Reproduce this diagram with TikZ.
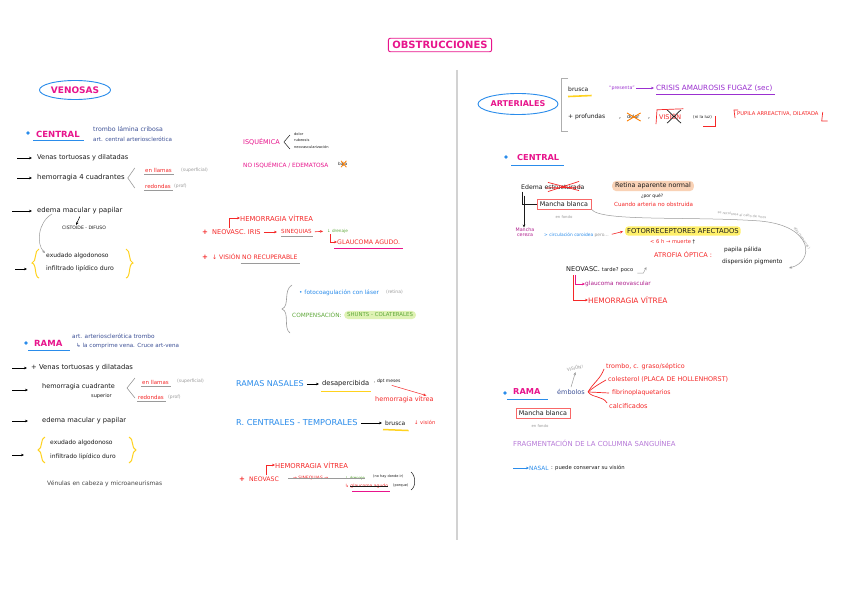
\documentclass[tikz,border=0pt]{standalone}
\usepackage{fontspec}
\setmainfont{DejaVu Sans}
\usetikzlibrary{arrows.meta,shapes.geometric,calc}
\definecolor{cpink}{HTML}{E8148C}
\definecolor{cblue}{HTML}{2A8CEB}
\definecolor{cnavy}{HTML}{3C5096}
\definecolor{cred}{HTML}{F52828}
\definecolor{cgray}{HTML}{9A9A9A}
\definecolor{cgreen}{HTML}{5FA83A}
\definecolor{cyel}{HTML}{FFD21E}
\definecolor{chl}{HTML}{FFF06A}
\definecolor{cpurple}{HTML}{9B30D0}
\definecolor{clpurple}{HTML}{B77AD8}
\definecolor{corange}{HTML}{F9D2B6}
\definecolor{clgreen}{HTML}{DFF2B4}
\definecolor{cmag}{HTML}{B0208E}
\definecolor{cink}{HTML}{1A1A1A}
\newcommand\fsz[1]{\fontsize{#1}{#1}\selectfont}
\begin{document}
\begin{tikzpicture}[x=1pt,y=-1pt,
  tx/.style={anchor=west,inner sep=0pt,font=\fsz{6.6},text=cink},
  arr/.style={-{Stealth[length=3pt,width=2.6pt]},line width=0.6pt},
  bul/.style={circle,fill=cblue,inner sep=1.4pt},
  ttl/.style={tx,text=cpink,font=\bfseries\fsz{8.5}},
  ul/.style={cblue,line width=1pt},
  mbox/.style={draw=cred!70,line width=0.6pt,inner xsep=3pt,inner ysep=2.5pt,font=\fsz{6.4},text=cink},
  brace/.style={cyel,line width=1pt}]
\useasboundingbox[fill=white] (0,0) rectangle (848,599);

% ---------- title & divider
\node[draw=cpink,rounded corners=2pt,line width=0.9pt,inner xsep=4pt,inner ysep=3pt,text=cpink,font=\bfseries\fsz{10}] (title) at (440,45) {OBSTRUCCIONES};
\coordinate (d1) at (457,70); \coordinate (d2) at (457,540);
\draw[cgray!45,line width=1.2pt] (d1) -- (d2);

% ================= VENOSAS =================
\node[ellipse,draw=cblue,line width=0.9pt,text=cpink,font=\bfseries\fsz{9},minimum width=64,minimum height=19,inner sep=1pt] (venosas) at (75,90) {VENOSAS};

% --- central
\node[bul] (b1) at (28,133) {};
\node[ttl] (vcen) at (36,134) {CENTRAL};
\draw[ul] ($(vcen.south west)+(-3,3)$) -- ($(vcen.south east)+(4,3)$);
\node[tx,text=cnavy,font=\fsz{6.2}] (vc1) at (93,129) {trombo lámina cribosa};
\node[tx,text=cnavy,font=\fsz{5.6}] (vc2) at (93,139) {art. central arteriosclerótica};

\coordinate (a1) at (17,158);
\node[tx] (l1) at (37,158) {Venas tortuosas y dilatadas};
\draw[arr,shorten >=5pt] (a1) -- (l1.west);

\coordinate (a2) at (17,178);
\node[tx,font=\fsz{6.9}] (l2) at (37,178) {hemorragia 4 cuadrantes};
\draw[arr,shorten >=5pt] (a2) -- (l2.west);
\draw[cgray,line width=0.6pt] ($(l2.east)+(10,-10)$) -- ($(l2.east)+(3,0)$) -- ($(l2.east)+(10,10)$);
\node[tx,text=cred,font=\fsz{5.5}] (ll1) at (145,170) {en llamas};
\node[tx,text=cgray,font=\fsz{4.5}] (sp1) at (181,170) {(superficial)};
\draw[cgray,line width=0.5pt] ($(ll1.south west)+(-1,2)$) -- ($(ll1.south east)+(2,2)$);
\node[tx,text=cred,font=\fsz{5.5}] (rd1) at (145,186) {redondas};
\node[tx,text=cgray,font=\fsz{4.5}] (pr1) at (174,186) {(prof)};
\draw[cgray,line width=0.5pt] ($(rd1.south west)+(-1,2)$) -- ($(rd1.south east)+(2,2)$);

\coordinate (a3) at (12,211);
\node[tx,font=\fsz{6.8}] (l3) at (37,211) {edema macular y papilar};
\draw[arr,shorten >=5pt] (a3) -- (l3.west);
\node[tx,font=\fsz{4.6}] (cis) at (62,228) {CISTOIDE - DIFUSO};
\draw[arr,line width=0.5pt] ($(l3.south)+(0,2)$) -- ($(cis.north)+(-8,-1)$);
\coordinate (g1) at (52,214); \coordinate (g2) at (45,253);
\draw[cgray,arr,line width=0.5pt] (g1) .. controls (38,222) and (36,244) .. (g2);

\draw[brace] (39,249) .. controls (34,250) and (37,262) .. (32,263) .. controls (37,264) and (34,277) .. (39,278);
\draw[brace] (126,249) .. controls (131,250) and (128,262) .. (133,263) .. controls (128,264) and (131,277) .. (126,278);
\node[tx,font=\fsz{6}] (ex1) at (46,256) {exudado algodonoso};
\node[tx,font=\fsz{6.2}] (if1) at (46,269) {infiltrado lipídico duro};
\coordinate (a4) at (15,269);
\draw[arr] (a4) -- ++(12,0) coordinate (a4e);

% isquemica
\node[tx,text=cpink,font=\fsz{6.5}] (isq) at (243,142) {ISQUÉMICA};
\draw[cink,line width=0.5pt] ($(isq.east)+(10,-7)$) -- ($(isq.east)+(4,0)$) -- ($(isq.east)+(10,7)$);
\node[tx,font=\fsz{3.6}] (iq1) at (294,134) {dolor};
\node[tx,font=\fsz{3.6}] (iq2) at (294,140) {rubeosis};
\node[tx,font=\fsz{3.6}] (iq3) at (294,147) {neovascularización};
\node[tx,text=cpink,font=\fsz{5.8}] (noisq) at (243,165) {NO ISQUÉMICA / EDEMATOSA};
\node[tx,font=\fsz{4.2}] (baja) at (338,164) {baja};
\draw[orange,line width=0.8pt] ($(baja.south west)+(3,1)$) -- ($(baja.north east)+(-1,-1)$) ($(baja.north west)+(3,-1)$) -- ($(baja.south east)+(-1,1)$);

% red block
\node[tx,text=cred,font=\fsz{6.8}] (hv1) at (240,218) {HEMORRAGIA VÍTREA};
\node[tx,text=cred,font=\bfseries\fsz{7}] (pl1) at (202,232) {+};
\node[tx,text=cred,font=\fsz{6.6}] (neo1) at (212,232) {NEOVASC. IRIS};
\draw[cred,arr] ($(neo1.north west)+(17,-1)$) |- (hv1.west);
\node[tx,text=cred,font=\fsz{5.6}] (sin1) at (281,232) {SINEQUIAS};
\draw[cred,arr,shorten <=3pt,shorten >=4pt] (neo1.east) -- (sin1.west);
\draw[cgray,line width=0.6pt] ($(sin1.south west)+(0,2)$) -- ($(sin1.south east)+(1,2)$);
\node[tx,text=cgreen,font=\fsz{4.2}] (dren1) at (327,231) {↓ drenaje};
\draw[cred,arr,shorten <=3pt,shorten >=4pt] (sin1.east) -- (dren1.west);
\node[tx,text=cred,font=\fsz{6.2}] (gla1) at (337,242) {GLAUCOMA AGUDO.};
\draw[cred,arr] ($(dren1.south west)+(3,1)$) |- (gla1.west);
\draw[cpink,line width=0.9pt] ($(gla1.south west)+(-3,4)$) -- ($(gla1.south east)+(3,4)$);
\node[tx,text=cred,font=\bfseries\fsz{7}] (pl2) at (202,257) {+};
\node[tx,text=cred,font=\fsz{6.1}] (vis1) at (212,257) {↓ VISIÓN NO RECUPERABLE};
\draw[cgray,line width=0.6pt] ($(vis1.south east)+(-57,3)$) -- ($(vis1.south east)+(2,3)$);

% brace treatment
\draw[cgray,line width=0.6pt] (292,285) .. controls (283,290) and (290,306) .. (282,309) .. controls (290,312) and (283,328) .. (290,333);
\node[tx,text=cblue,font=\fsz{5.8}] (foto) at (299,293) {• fotocoagulación con láser};
\node[tx,text=cgray,font=\fsz{4.5}] (ret) at (386,292) {(retina)};
\node[tx,text=cgreen,font=\fsz{5.8}] (comp) at (292,315) {COMPENSACIÓN:};
\node[tx,anchor=west,fill=clgreen,rounded corners=4pt,inner xsep=3pt,inner ysep=2pt,text=cgreen,font=\fsz{5.4}] (shunt) at (344,315) {SHUNTS - COLATERALES};

% --- rama venosa
\node[bul] (b2) at (26,343) {};
\node[ttl] (vrama) at (34,343) {RAMA};
\draw[ul] ($(vrama.south west)+(-6,4)$) -- ($(vrama.south east)+(7,4)$);
\node[tx,text=cnavy,font=\fsz{5.8}] (vr1) at (72,336) {art. arteriosclerótica trombo};
\node[tx,text=cnavy,font=\fsz{5.6}] (vr2) at (76,346) {↳ la comprime vena. Cruce art-vena};

\coordinate (a5) at (12,368);
\node[tx,font=\fsz{6.8}] (m1) at (31,368) {+ Venas tortuosas y dilatadas};
\draw[arr,shorten >=4pt] (a5) -- (m1.west);

\coordinate (a6) at (12,390);
\node[tx,font=\fsz{6.5}] (m2) at (42,387) {hemorragia cuadrante};
\node[tx,font=\fsz{5}] (m2b) at (91,396) {superior};
\draw[arr,shorten >=14pt] (a6) -- (m2.west |- a6);
\draw[cgray,line width=0.6pt] (135,378) -- (127,388) -- (135,398);
\node[tx,text=cred,font=\fsz{5.5}] (ll2) at (142,382) {en llamas};
\node[tx,text=cgray,font=\fsz{4.5}] (sp2) at (177,381) {(superficial)};
\draw[cgray,line width=0.5pt] ($(ll2.south west)+(-1,2)$) -- ($(ll2.south east)+(2,2)$);
\node[tx,text=cred,font=\fsz{5.5}] (rd2) at (138,397) {redondas};
\node[tx,text=cgray,font=\fsz{4.5}] (pr2) at (168,397) {(prof)};
\draw[cgray,line width=0.5pt] ($(rd2.south west)+(-1,2)$) -- ($(rd2.south east)+(2,2)$);

\coordinate (a7) at (12,421);
\node[tx,font=\fsz{6.7}] (m3) at (42,421) {edema macular y papilar};
\draw[arr,shorten >=14pt] (a7) -- (m3.west);

\draw[brace] (45,437) .. controls (40,438) and (43,449) .. (38,450) .. controls (43,451) and (40,462) .. (45,463);
\draw[brace] (129,437) .. controls (134,438) and (131,449) .. (136,450) .. controls (131,451) and (134,462) .. (129,463);
\node[tx,font=\fsz{6}] (ex2) at (50,443) {exudado algodonoso};
\node[tx,font=\fsz{6}] (if2) at (50,457) {infiltrado lipídico duro};
\coordinate (a8) at (12,455);
\draw[arr] (a8) -- ++(12,0) coordinate (a8e);
\node[tx,font=\fsz{6},text=cink!80] (ven) at (47,484) {Vénulas en cabeza y microaneurismas};

% ramas nasales / centrales
\node[tx,text=cblue,font=\fsz{8}] (rn) at (236,384) {RAMAS NASALES};
\node[tx,font=\fsz{6.7}] (desa) at (322,384) {desapercibida};
\draw[arr,shorten <=3pt,shorten >=3pt] (rn.east) -- (desa.west);
\draw[cyel,line width=1.3pt] ($(desa.south west)+(-1,4)$) -- ($(desa.south east)+(2,4)$);
\node[tx,font=\fsz{4.5}] (dpt) at (374,381) {, dpt meses};
\node[tx,text=cred,font=\fsz{6.5}] (hv2) at (375,400) {hemorragia vítrea};
\draw[cred,arr,line width=0.5pt] ($(dpt.south east)+(-9,2)$) -- ($(hv2.north)+(22,-1)$);

\node[tx,text=cblue,font=\fsz{8.2}] (rc) at (236,423) {R. CENTRALES - TEMPORALES};
\node[tx,font=\fsz{6}] (bru1) at (385,423) {brusca};
\draw[arr,shorten <=3pt,shorten >=3pt] (rc.east) -- (bru1.west);
\draw[cyel,line width=1.5pt] ($(bru1.south west)+(-2,4)$) -- ($(bru1.south east)+(3,5)$);
\node[tx,text=cred,font=\fsz{5.2}] (vis2) at (414,422) {↓ visión};

% bottom neovasc (struck)
\node[tx,text=cred,font=\fsz{6.8}] (hv3) at (275,465) {HEMORRAGIA VÍTREA};
\node[tx,text=cred,font=\bfseries\fsz{7}] (pl3) at (239,479) {+};
\node[tx,text=cred,font=\fsz{6.2}] (neo3) at (249,479) {NEOVASC};
\draw[cred,arr] ($(neo3.north west)+(17,-1)$) |- (hv3.west);
\node[tx,text=cred,font=\fsz{4.5}] (sin3) at (293,478) {→ SINEQUIAS →};
\node[tx,text=cgreen,font=\fsz{4}] (dren3) at (345,478) {↓ drenaje};
\node[tx,font=\fsz{3.5}] (nohay) at (373,477) {(no hay donde ir)};
\node[tx,text=cred,font=\fsz{4.5}] (gla3) at (345,486) {↳ glaucoma agudo};
\node[tx,font=\fsz{3.5}] (porq) at (393,486) {(porque)};
\draw[cgray,line width=0.6pt] ($(sin3.west)+(-5,0)$) -- (dren3.east);
\draw[cink,line width=0.5pt] ($(gla3.west)+(5,0)$) -- (gla3.east);
\draw[cpink,line width=0.9pt] ($(gla3.south west)+(7,3)$) -- ($(gla3.south east)+(2,3)$);
\coordinate (pa) at (411,472); \coordinate (pb) at (411,490);
\draw[cink,line width=0.5pt] (pa) .. controls (416,476) and (416,487) .. (pb);

% ================= ARTERIALES =================
\node[ellipse,draw=cblue,line width=0.9pt,text=cpink,font=\bfseries\fsz{8},minimum width=72,minimum height=21,inner sep=1pt] (art) at (518,104) {ARTERIALES};
\coordinate (k1) at (568,78); \coordinate (k2) at (568,131);
\draw[cgray!80,line width=0.8pt] (k1) -- (561,78) -- (561,131) -- (k2);
\node[tx,font=\fsz{6}] (bru2) at (568,89) {brusca};
\draw[cyel,line width=1.6pt] ($(bru2.south west)+(0,5)$) -- ($(bru2.south east)+(3,4)$);
\node[tx,text=cpurple,font=\fsz{4.7}] (pres) at (609,88) {“presenta”};
\node[tx,text=cpurple,font=\fsz{7.2}] (cris) at (656,88) {CRISIS AMAUROSIS FUGAZ (sec)};
\draw[cpurple,arr,line width=0.5pt,shorten <=1pt,shorten >=2pt] (pres.east) -- (cris.west);
\draw[cpurple,line width=0.5pt] ($(cris.south west)+(0,3)$) -- ($(cris.south east)+(2,3)$);

\node[tx,font=\fsz{6}] (prof) at (568,117) {+ profundas};
\node[tx,font=\fsz{6}] (c1) at (619,118) {,};
\node[tx,font=\fsz{4.8}] (dol) at (627,117) {dolor};
\draw[orange,line width=0.9pt] ($(dol.south west)+(0,2)$) -- ($(dol.north east)+(1,-2)$) ($(dol.north west)+(0,-2)$) -- ($(dol.south east)+(1,2)$);
\node[tx,font=\fsz{6}] (c2) at (648,118) {,};
\node[tx,text=cred,font=\fsz{6.4}] (vis3) at (659,117) {VISIÓN};
\draw[cink,line width=0.7pt] ($(vis3.south west)+(8,3)$) -- ($(vis3.north west)+(22,-4)$) ($(vis3.north west)+(8,-4)$) -- ($(vis3.south west)+(22,3)$);
\draw[cred,line width=0.7pt] ($(vis3.south west)+(-3,4)$) -- ($(vis3.north west)+(-2,-4)$) -- ($(vis3.north east)+(2,-5)$);
\node[tx,font=\fsz{4}] (nilu) at (693,117) {(ni la luz)};
\draw[cred,line width=0.8pt] ($(nilu.south west)+(10,7)$) -- ($(nilu.south east)+(3,7)$) -- ($(nilu.east)+(3,-1)$);
\node[tx,text=cred,font=\fsz{5.2}] (pup) at (737,114) {PUPILA ARREACTIVA, DILATADA};
\draw[cred,line width=0.7pt] ($(pup.west)+(-2,4)$) -- ($(pup.west)+(-3,-4)$) -- ($(pup.west)+(1,-4)$);
\draw[cred,line width=0.7pt] ($(pup.east)+(4,-2)$) -- ($(pup.east)+(3,7)$) -- ($(pup.east)+(9,7)$);

% --- central arterial
\node[bul] (b3) at (506,157) {};
\node[ttl,font=\bfseries\fsz{8.2}] (acen) at (517,158) {CENTRAL};
\draw[ul] ($(acen.south west)+(-6,4)$) -- ($(acen.south east)+(5,4)$);

\node[tx,font=\fsz{6.2}] (edm) at (521,187) {Edema estructurada};
\draw[cred,line width=0.7pt] ($(edm.south west)+(27,2)$) -- ($(edm.north west)+(58,-3)$) ($(edm.north west)+(27,-2)$) -- ($(edm.south west)+(58,1)$) ($(edm.west)+(25,1)$) -- ($(edm.west)+(60,0)$);
\node[tx,fill=corange,rounded corners=4pt,inner xsep=3pt,inner ysep=2pt,font=\fsz{6.4}] (rapn) at (612,186) {Retina aparente normal};
\node[tx,font=\fsz{4.5}] (pq) at (641,196) {¿por qué?};
\node[tx,text=cred,font=\fsz{5.6}] (cuan) at (614,204) {Cuando arteria no obstruida};

\node[mbox] (mb1) at (564,204) {Mancha blanca};
\node[inner sep=0pt,text=cgray,font=\fsz{3.8}] (ef1) at (564,217) {en fondo};
\draw[cink,line width=0.8pt] ($(edm.south west)+(1,2)$) |- (mb1.west);
\node[inner sep=0pt,text=cmag,font=\fsz{4.8},align=center] (mc) at (525,232) {Mancha\\cereza};
\draw[cink,arr,line width=0.8pt] ($(edm.south west)+(3,6)$) -- (mc.north -| {$(edm.south west)+(3,6)$});

\node[tx,text=cblue,font=\fsz{4.4}] (circ) at (544,235) {> circulación coroidea \textcolor{cgray}{pero...}};
\node[tx,fill=chl,rounded corners=3pt,inner xsep=2pt,inner ysep=2pt,font=\fsz{6.8}] (fot) at (625,231) {FOTORRECEPTORES AFECTADOS};
\draw[cred,arr,shorten <=3pt,shorten >=2pt] (circ.east) -- (fot.west);
\node[tx,text=cred,font=\fsz{5.2}] (seis) at (650,242) {< 6 h → muerte \textcolor{cink}{†}};
\node[tx,text=cred,font=\fsz{6.5}] (atr) at (654,255) {ATROFIA ÓPTICA :};
\node[tx,font=\fsz{5.8}] (pap) at (724,250) {papila pálida};
\node[tx,font=\fsz{5.9}] (disp) at (722,262) {dispersión pigmento};
\coordinate (ce) at (789,268);
\draw[cgray,arr,line width=0.5pt] (mb1.south east) .. controls (600,222) and (690,216) .. (760,221) .. controls (815,226) and (814,262) .. (ce);
\node[inner sep=0pt,text=cgray,font=\fsz{3.4},rotate=-6] (recol) at (742,215) {se recolorea al cabo de unos};
\node[inner sep=0pt,text=cgray,font=\fsz{3.4},rotate=-55] (dias) at (802,238) {días (semanas)};

\node[tx,font=\fsz{6.6}] (neo2) at (566,270) {NEOVASC. \fsz{5.2}tarde? poco};
\draw[cgray,arr,line width=0.5pt] ($(neo2.east)+(4,3)$) -- ++(6,0) -- ++(3,-6);
\node[tx,text=cmag,font=\fsz{5.8}] (glan) at (585,284) {glaucoma neovascular};
\node[tx,text=cred,font=\fsz{7.4}] (hv4) at (588,300) {HEMORRAGIA VÍTREA};
\draw[cpink,arr,line width=0.6pt] ($(neo2.south west)+(9,2)$) |- (glan.west);
\draw[cred,arr,line width=0.7pt] ($(neo2.south west)+(7,2)$) |- (hv4.west);

% --- rama arterial
\node[bul] (b4) at (505,393) {};
\node[ttl,font=\bfseries\fsz{8.2}] (arama) at (513,392) {RAMA};
\draw[ul] ($(arama.south west)+(-6,4)$) -- ($(arama.south east)+(7,4)$);
\node[tx,text=cnavy,font=\fsz{6.5}] (emb) at (557,392) {émbolos};
\node[inner sep=0pt,text=cgray,font=\fsz{4.3},rotate=12] (visx) at (575,368) {VISIÓN!};
\draw[cgray,arr,line width=0.5pt] ($(emb.north)+(0,-2)$) -- ($(visx.south)+(0,2)$);
\node[tx,text=cred,font=\fsz{6.4}] (e1) at (606,367) {trombo, c. graso/séptico};
\node[tx,text=cred,font=\fsz{6.4}] (e2) at (608,379) {colesterol (PLACA DE HOLLENHORST)};
\node[tx,text=cred,font=\fsz{6.2}] (e3) at (612,393) {fibrinoplaquetarios};
\node[tx,text=cred,font=\fsz{6.6}] (e4) at (609,406) {calcificados};
\draw[cred,line width=0.7pt] ($(emb.east)+(3,0)$) to[out=60,in=-110] ($(e1.west)+(-2,2)$);
\draw[cred,line width=0.7pt] ($(emb.east)+(3,0)$) to[out=40,in=-150] ($(e2.west)+(-2,1)$);
\draw[cred,line width=0.7pt] ($(emb.east)+(4,0)$) -- ($(e3.west)+(-3,0)$);
\draw[cred,line width=0.7pt] ($(emb.east)+(3,0)$) to[out=-50,in=120] ($(e4.west)+(-2,-3)$);

\node[mbox] (mb2) at (543,413) {Mancha blanca};
\node[inner sep=0pt,text=cgray,font=\fsz{3.8}] (ef2) at (540,426) {en fondo};
\node[tx,text=clpurple,font=\fsz{6.9}] (frag) at (513,443) {FRAGMENTACIÓN DE LA COLUMNA SANGUÍNEA};
\coordinate (a9) at (513,468);
\node[tx,text=cblue,font=\fsz{5.8}] (nas) at (529,468) {NASAL};
\draw[cblue,arr] (a9) -- (nas.west);
\node[tx,font=\fsz{5.3}] (puede) at (551,468) {: puede conservar su visión};
\end{tikzpicture}
\end{document}
